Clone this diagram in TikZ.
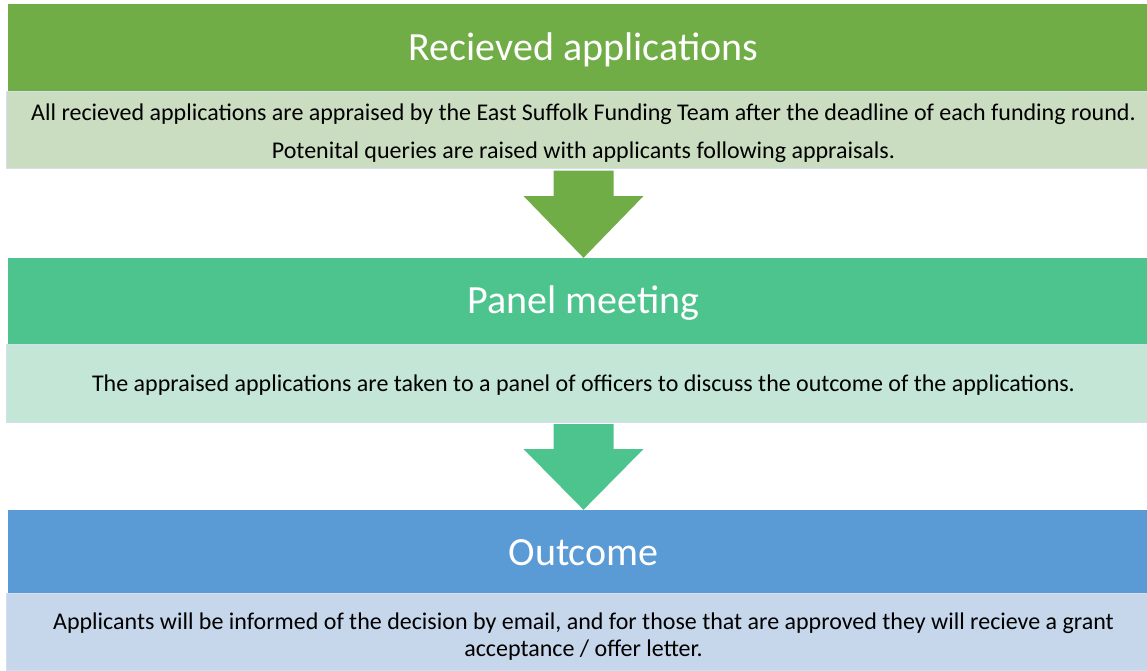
\documentclass[tikz,border=0pt]{standalone}
\usepackage{fontspec}
\setmainfont{Carlito}
\definecolor{gA}{HTML}{70AD47}
\definecolor{gAl}{HTML}{CBDDC1}
\definecolor{gB}{HTML}{4DC48D}
\definecolor{gBl}{HTML}{C3E6D7}
\definecolor{bC}{HTML}{5B9BD5}
\definecolor{bCl}{HTML}{C6D6EB}
\definecolor{edgeC}{HTML}{D5DEEE}
\begin{document}
\begin{tikzpicture}[x=1pt,y=-1pt,
  bar/.style={rectangle, inner sep=0pt, minimum width=1151pt},
  bartext/.style={text=white, inner sep=0pt, font=\fontsize{40}{48}\selectfont},
  info/.style={rectangle, inner sep=0pt, minimum width=1155pt, draw=edgeC, line width=1pt},
  infotext/.style={text=black, inner sep=0pt, align=center}]
\useasboundingbox (0,0) rectangle (1147,670);
\clip (0,0) rectangle (1147,670);
% step 1
\node[info, fill=gAl, minimum height=77pt] (t1) at (583.5,129.5) {};
\node[infotext, font=\fontsize{24}{38}\selectfont] (t1x) at ([yshift=-3.5pt]t1.center) {All recieved applications are appraised by the East Suffolk Funding Team after the deadline of each funding round.\\Potenital queries are raised with applicants following appraisals.};
\node[bar, fill=gA, minimum height=87pt] (b1) at (583.5,47.5) {};
\node[bartext] (b1x) at ([yshift=-2pt]b1.center) {Recieved applications};
% step 2
\node[info, fill=gBl, minimum height=78pt] (t2) at (583.5,383.5) {};
\node[infotext, font=\fontsize{24}{29}\selectfont] (t2x) at ([yshift=-2pt]t2.center) {The appraised applications are taken to a panel of officers to discuss the outcome of the applications.};
\node[bar, fill=gB, minimum height=86pt] (b2) at (583.5,301) {};
\node[bartext] (b2x) at ([yshift=-2pt]b2.center) {Panel meeting};
% step 3
\node[info, fill=bCl, minimum height=77pt] (t3) at (583.5,632) {};
\node[infotext, font=\fontsize{24}{27}\selectfont] (t3x) at ([yshift=-5pt]t3.center) {Applicants will be informed of the decision by email, and for those that are approved they will recieve a grant\\acceptance / offer letter.};
\node[bar, fill=bC, minimum height=83pt] (b3) at (583.5,551.5) {};
\node[bartext] (b3x) at ([yshift=-1pt]b3.center) {Outcome};
% arrows
\coordinate (a1) at ([yshift=-2pt]t1.south);
\coordinate (h1) at (b1.south |- b2.north);
\fill[gA] ([xshift=-30pt]a1) -- ([xshift=30pt]a1) -- ([xshift=30pt]a1 |- 0,196) -- ([xshift=60pt]a1 |- 0,196) -- (h1) -- ([xshift=-60pt]a1 |- 0,196) -- ([xshift=-30pt]a1 |- 0,196) -- cycle;
\coordinate (a2) at ([yshift=-1pt]t2.south);
\coordinate (h2) at (b2.south |- b3.north);
\fill[gB] ([xshift=-30pt]a2) -- ([xshift=30pt]a2) -- ([xshift=30pt]a2 |- 0,449) -- ([xshift=60pt]a2 |- 0,449) -- (h2) -- ([xshift=-60pt]a2 |- 0,449) -- ([xshift=-30pt]a2 |- 0,449) -- cycle;
\end{tikzpicture}
\end{document}
